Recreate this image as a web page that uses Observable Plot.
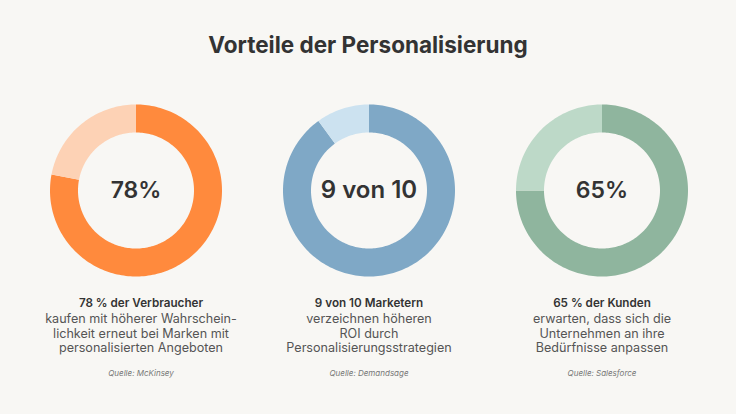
<!DOCTYPE html>
<html>
<head>
<meta charset="utf-8">
<script src="https://cdn.jsdelivr.net/npm/d3@7"></script>
<script src="https://cdn.jsdelivr.net/npm/@observablehq/plot@0.6"></script>
<style>
  html, body { margin: 0; padding: 0; background: #F8F7F4; width: 736px; height: 414px; overflow: hidden; }
  #title { box-sizing: border-box; height: 78px; padding-top: 34px; text-align: center;
    font-family: Inter, "Noto Sans", sans-serif; font-size: 22.5px; line-height: 22.5px; font-weight: 700; color: #333333; }
  #chart svg { display: block; background: #F8F7F4; }
</style>
</head>
<body>
<div id="title">Vorteile der Personalisierung</div>
<div id="chart"></div>
<script>
// ---- data ----
const metrics = ["78%", "9 von 10", "65%"];
// share of each ring drawn in the dark colour
const shares = [0.78, 0.9, 0.75];
const headlines = ["78 % der Verbraucher", "9 von 10 Marketern", "65 % der Kunden"];
const bodies = [
  "kaufen mit höherer Wahrschein-\nlichkeit erneut bei Marken mit\npersonalisierten Angeboten",
  "verzeichnen höheren\nROI durch\nPersonalisierungsstrategien",
  "erwarten, dass sich die\nUnternehmen an ihre\nBedürfnisse anpassen"
];
const sources = ["Quelle: McKinsey", "Quelle: Demandsage", "Quelle: Salesforce"];

// ---- styles ----
const darkColors = ["#FF8A3D", "#7FA8C6", "#8FB59E"];
const lightColors = ["#FDD2B5", "#CCE2F0", "#BDD9C8"];
const R_OUT = 86, R_IN = 58;
const W = 736, H = 336, BAND = 233;
const side = (W - 3 * BAND) / 2;

// build ring-segment polygons from the share values
function ring(metric, key, color, a0, a1) {
  const n = Math.max(2, Math.ceil((a1 - a0) * 240) + 1);
  const pts = [];
  for (let k = 0; k < n; k++) {
    const t = (a0 + (a1 - a0) * k / (n - 1)) * 2 * Math.PI;
    pts.push({metric, key, color, x: R_OUT * Math.sin(t), y: R_OUT * Math.cos(t)});
  }
  for (let k = n - 1; k >= 0; k--) {
    const t = (a0 + (a1 - a0) * k / (n - 1)) * 2 * Math.PI;
    pts.push({metric, key, color, x: R_IN * Math.sin(t), y: R_IN * Math.cos(t)});
  }
  return pts;
}
const slices = metrics.flatMap((m, i) => [
  ...ring(m, m + "-a", darkColors[i], 0, shares[i]),
  ...ring(m, m + "-b", lightColors[i], shares[i], 1)
]);

const idx = metrics.map((m, i) => i);
const textX = i => (i === 0 ? 5 : 0);

const plot = Plot.plot({
  width: W,
  height: H,
  marginLeft: side,
  marginRight: side,
  marginTop: 0,
  marginBottom: 0,
  style: {fontFamily: "Inter, 'Noto Sans', sans-serif", background: "#F8F7F4"},
  fx: {domain: metrics, padding: 0, axis: null},
  x: {domain: [-BAND / 2, BAND / 2], axis: null},
  y: {domain: [-224, 112], axis: null},
  color: {type: "identity"},
  marks: [
    Plot.line(slices, {fx: "metric", x: "x", y: "y", z: "key", fill: "color", stroke: "none", curve: "linear"}),
    Plot.text(idx, {fx: i => metrics[i], x: () => 0, y: () => 0, text: i => metrics[i],
      fontSize: i => (i === 1 ? 24 : 23), fontWeight: 600, fill: "#333333"}),
    Plot.text(idx, {fx: i => metrics[i], x: textX, y: () => -112.7, text: i => headlines[i],
      fontSize: 11.7, fontWeight: 600, fill: "#333333"}),
    Plot.text(idx, {fx: i => metrics[i], x: textX, y: () => -142.3, text: i => bodies[i],
      fontSize: 12.6, fontWeight: 400, fill: "#555555", lineAnchor: "middle", lineHeight: 1.167}),
    Plot.text(idx, {fx: i => metrics[i], x: textX, y: () => -182.7, text: i => sources[i],
      fontSize: 8, fontStyle: "italic", fill: "#777777"})
  ]
});
document.getElementById("chart").appendChild(plot);
</script>
</body>
</html>
